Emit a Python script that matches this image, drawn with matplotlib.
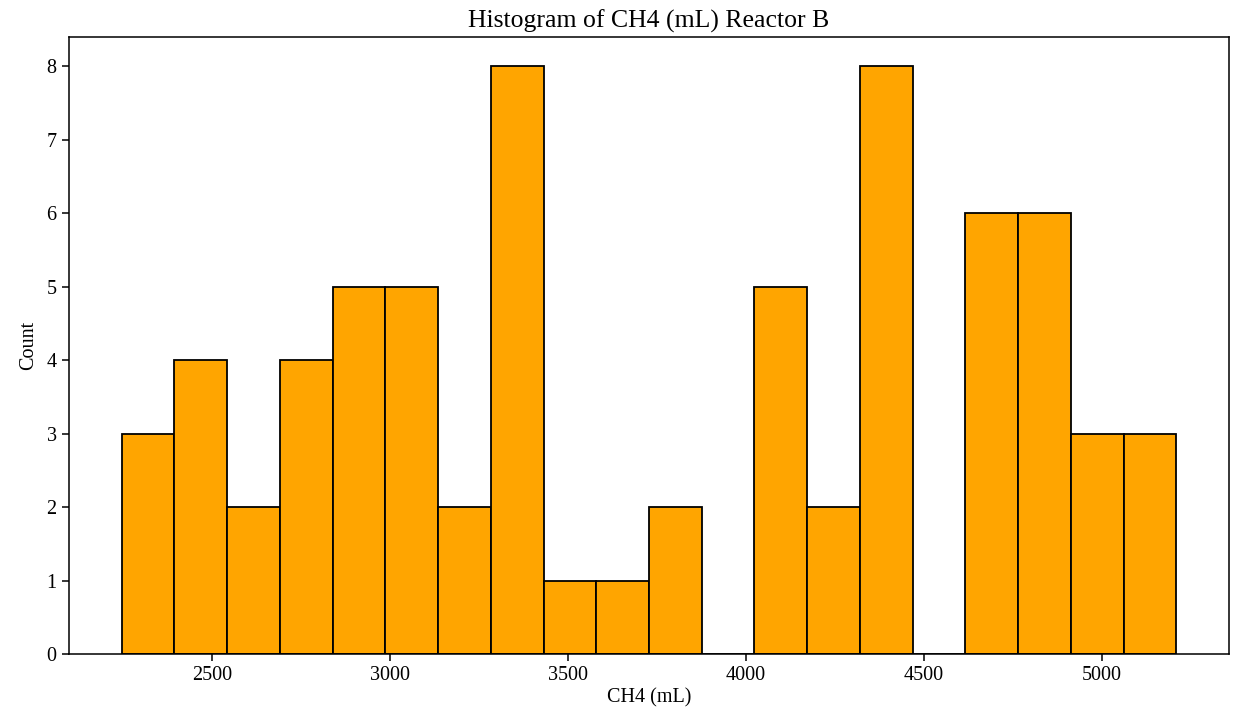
import numpy as np
import matplotlib
matplotlib.use('Agg')
import matplotlib.pyplot as plt

plt.rcParams['font.family'] = ['Liberation Serif', 'DejaVu Serif']

# histogram of CH4 volume, 20 equal bins between min and max of the data
ch4_min = 2245
ch4_max = 5209
counts = [3, 4, 2, 4, 5, 5, 2, 8, 1, 1, 2, 0, 5, 2, 8, 0, 6, 6, 3, 3]

edges = np.linspace(ch4_min, ch4_max, len(counts) + 1)

fig = plt.figure(figsize=(12.33, 7.09), dpi=100)
ax = fig.add_axes([69 / 1233, 1 - 654 / 709, (1229 - 69) / 1233, (654 - 37) / 709])

ax.bar(edges[:-1], counts, width=np.diff(edges), align='edge',
       color='orange', edgecolor='black', linewidth=1.3)

ax.set_xlim(ch4_min - 0.05 * (ch4_max - ch4_min), ch4_max + 0.05 * (ch4_max - ch4_min))
ax.set_ylim(0, 8.4)
ax.set_xticks([2500, 3000, 3500, 4000, 4500, 5000])
ax.set_yticks(range(0, 9))
ax.tick_params(labelsize=14.5, length=5, width=1.1, pad=4)
for s in ax.spines.values():
    s.set_linewidth(1.1)

ax.set_title('Histogram of CH4 (mL) Reactor B', fontsize=18.5, pad=7)
ax.set_xlabel('CH4 (mL)', fontsize=14.5, labelpad=2)
ax.set_ylabel('Count', fontsize=14.5, labelpad=6)

fig.savefig('out.png', dpi=100)
